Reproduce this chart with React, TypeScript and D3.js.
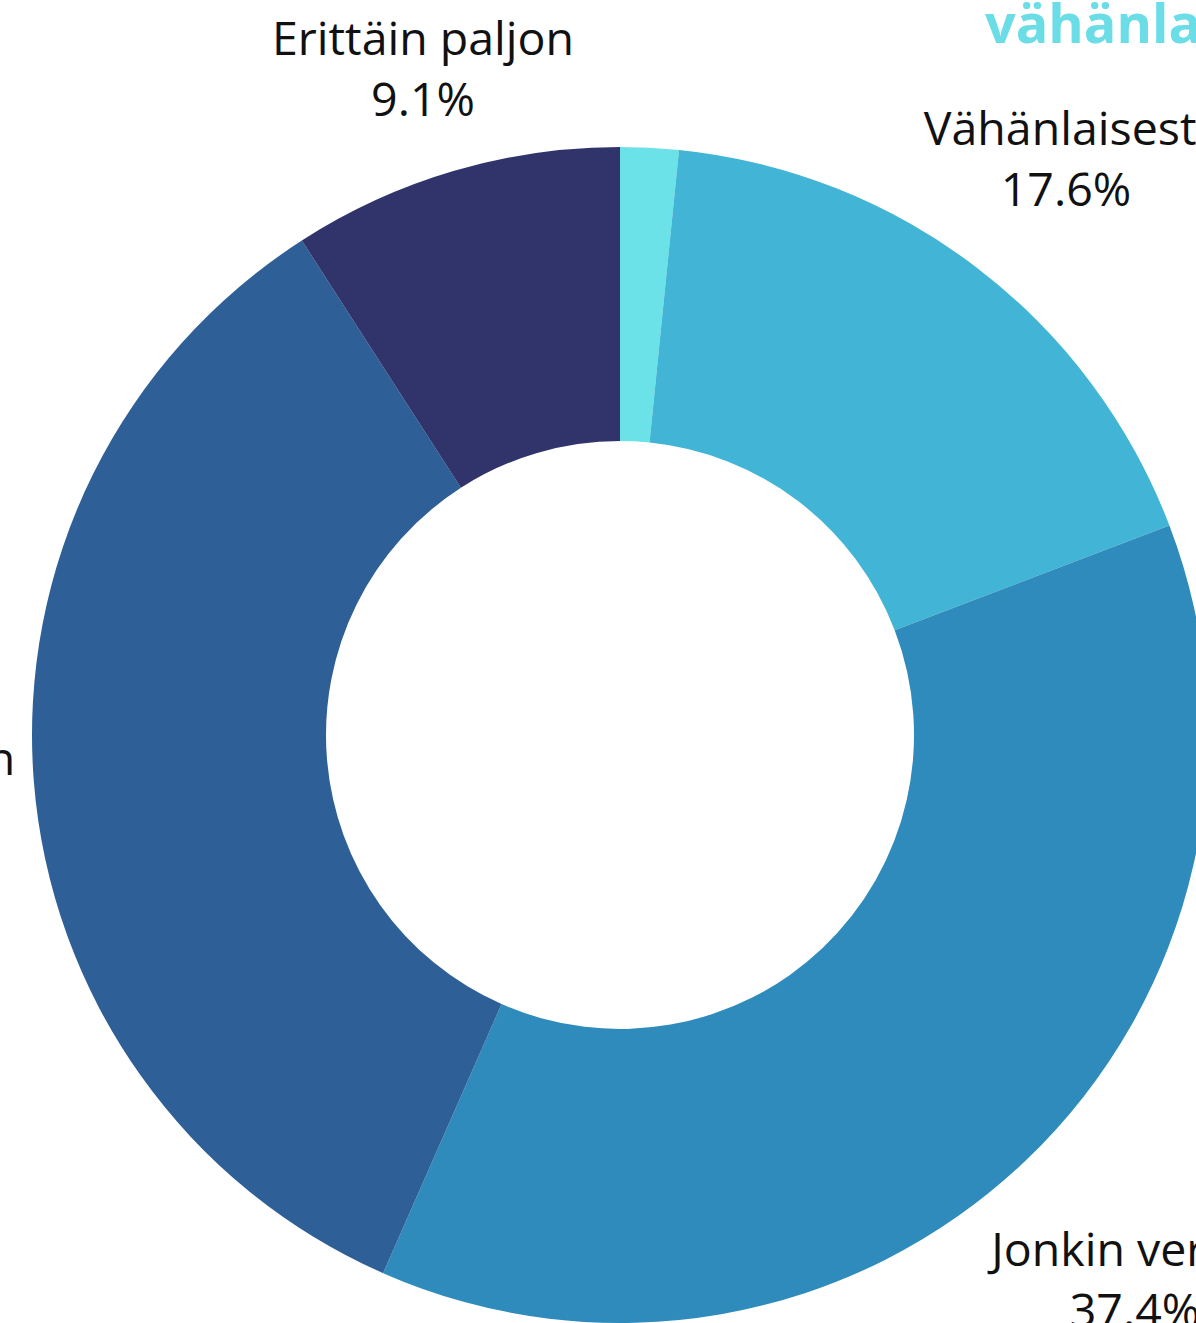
import React from "react";
import * as d3 from "d3";

const categories = ["Ei lainkaan", "Vähänlaisesti", "Jonkin verran", "Melko paljon", "Erittäin paljon"];
const values = [1.6, 17.6, 37.4, 34.3, 9.1];
const colors = ["#6ae2e8", "#42b5d6", "#2e8bbb", "#2e5f97", "#30346a"];
const showLabel = [false, true, true, true, true];
const title = "vähänlaisesti";

// label layout (anchor point of first line, in px), per category
const labelX = [0, 1066, 1135, -124, 423];
const labelY = [0, 145, 1266, 775, 55];

const W = 1196;
const H = 1323;
const CX = 620;
const CY = 735;
const R_OUT = 588;
const R_IN = 294;

export default function App() {
  const pie = d3.pie<number>().sort(null).value((d) => d);
  const arcs = pie(values);
  const arc = d3.arc<d3.PieArcDatum<number>>().innerRadius(R_IN).outerRadius(R_OUT);
  const font = "'Open Sans', 'Noto Sans', sans-serif";
  return (
    <svg
      width={W}
      height={H}
      style={{ position: "absolute", left: 0, top: 0, background: "#fff" }}
    >
      <rect x={0} y={0} width={W} height={H} fill="#ffffff" />
      <text x={985} y={43} fill="#6adde6" fontFamily={font} fontWeight={700} fontSize={54}>
        {title}
      </text>
      <g transform={`translate(${CX},${CY})`}>
        {arcs.map((a, i) => (
          <path key={i} d={arc(a) || ""} fill={colors[i]} stroke="none" />
        ))}
      </g>
      {arcs.map((a, i) =>
        showLabel[i] ? (
          <g key={"l" + i} fontFamily={font} fontSize={46.5} fill="#111111" textAnchor="middle">
            <text x={labelX[i]} y={labelY[i]}>{categories[i]}</text>
            <text x={labelX[i]} y={labelY[i] + 61}>{values[i].toFixed(1) + "%"}</text>
          </g>
        ) : null
      )}
    </svg>
  );
}
